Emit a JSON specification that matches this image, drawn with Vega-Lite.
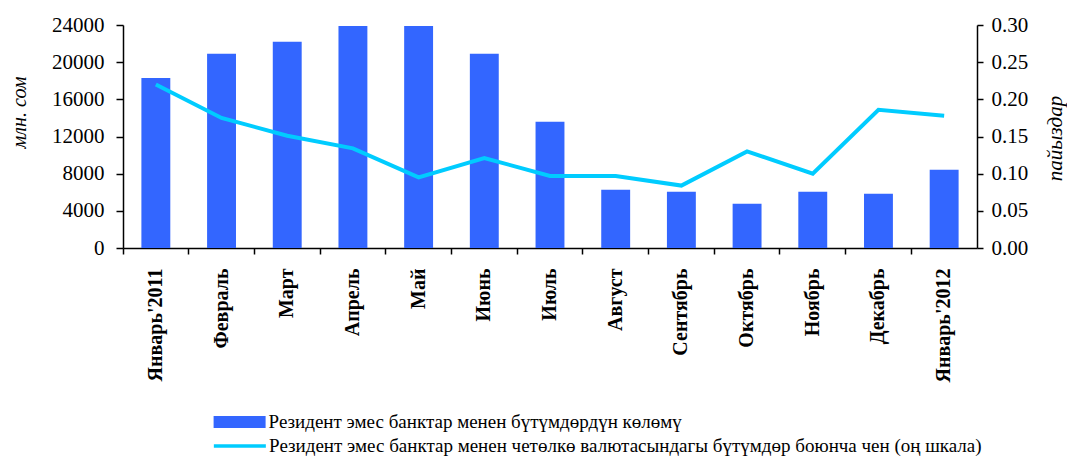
{
  "$schema": "https://vega.github.io/schema/vega-lite/v6.json",
  "width": 854,
  "height": 223,
  "autosize": {"type": "none"},
  "padding": {"left": 123, "top": 25, "right": 90, "bottom": 209},
  "background": "white",
  "config": {"view": {"stroke": null}, "font": "Liberation Serif"},
  "data": {
    "values": [
      {"month": "Январь'2011", "volume": 18300, "rate": 0.220},
      {"month": "Февраль", "volume": 20900, "rate": 0.175},
      {"month": "Март", "volume": 22200, "rate": 0.151},
      {"month": "Апрель", "volume": 23900, "rate": 0.134},
      {"month": "Май", "volume": 23900, "rate": 0.095},
      {"month": "Июнь", "volume": 20900, "rate": 0.121},
      {"month": "Июль", "volume": 13600, "rate": 0.097},
      {"month": "Август", "volume": 6270, "rate": 0.097},
      {"month": "Сентябрь", "volume": 6050, "rate": 0.084},
      {"month": "Октябрь", "volume": 4760, "rate": 0.130},
      {"month": "Ноябрь", "volume": 6050, "rate": 0.100},
      {"month": "Декабрь", "volume": 5840, "rate": 0.186},
      {"month": "Январь'2012", "volume": 8420, "rate": 0.178}
    ]
  },
  "encoding": {
    "x": {
      "field": "month",
      "type": "nominal",
      "sort": null,
      "scale": {"paddingInner": 0, "paddingOuter": 0},
      "axis": {
        "title": null,
        "labelAngle": -90,
        "labelFont": "Liberation Serif",
        "labelFontWeight": "bold",
        "labelFontSize": 20,
        "labelColor": "black",
        "labelPadding": 14,
        "labelOverlap": false,
        "labelLimit": 300,
        "bandPosition": 0,
        "tickSize": 6,
        "tickWidth": 1.5,
        "tickColor": "black",
        "domainColor": "black",
        "domainWidth": 1.5,
        "grid": false
      }
    }
  },
  "layer": [
    {
      "mark": {"type": "bar", "width": {"band": 0.44}},
      "encoding": {
        "y": {
          "field": "volume",
          "type": "quantitative",
          "scale": {"domain": [0, 24000], "nice": false},
          "axis": {
            "orient": "left",
            "title": "млн. сом",
            "titleFont": "Liberation Serif",
            "titleFontStyle": "italic",
            "titleFontWeight": "normal",
            "titleFontSize": 20,
            "titleColor": "black",
            "titleAngle": -90,
            "titleAlign": "center",
            "titleBaseline": "middle",
            "titleX": -104,
            "titleY": 87,
            "values": [0, 4000, 8000, 12000, 16000, 20000, 24000],
            "format": "d",
            "labelFont": "Liberation Serif",
            "labelFontSize": 21,
            "labelColor": "black",
            "labelPadding": 12,
            "tickSize": 7,
            "tickWidth": 1.5,
            "tickColor": "black",
            "domainColor": "black",
            "domainWidth": 1.5,
            "grid": false
          }
        },
        "fill": {
          "datum": "Резидент эмес банктар менен бүтүмдөрдүн көлөмү",
          "type": "nominal",
          "scale": {"range": ["#3366FF"]},
          "legend": {
            "title": null,
            "orient": "none",
            "legendX": 90.6,
            "legendY": 371,
            "padding": 0,
            "symbolType": "M-1,-0.23H1V0.23H-1Z",
            "symbolSize": 2704,
            "symbolStrokeWidth": 0,
            "labelFont": "Liberation Serif",
            "labelFontSize": 19,
            "labelColor": "black",
            "labelOffset": 3,
            "labelLimit": 1000
          }
        }
      }
    },
    {
      "mark": {"type": "line", "strokeWidth": 4},
      "encoding": {
        "y": {
          "field": "rate",
          "type": "quantitative",
          "scale": {"domain": [0, 0.3], "nice": false},
          "axis": {
            "orient": "right",
            "title": "пайыздар",
            "titleFont": "Liberation Serif",
            "titleFontStyle": "italic",
            "titleFontWeight": "normal",
            "titleFontSize": 21,
            "titleColor": "black",
            "titleAngle": -90,
            "titleAlign": "center",
            "titleBaseline": "middle",
            "titleX": 78,
            "titleY": 113,
            "values": [0, 0.05, 0.1, 0.15, 0.2, 0.25, 0.3],
            "format": ".2f",
            "labelFont": "Liberation Serif",
            "labelFontSize": 21,
            "labelColor": "black",
            "labelPadding": 8,
            "tickSize": 6,
            "tickWidth": 1.5,
            "tickColor": "black",
            "domainColor": "black",
            "domainWidth": 1.5,
            "grid": false
          }
        },
        "stroke": {
          "datum": "Резидент эмес банктар менен четөлкө валютасындагы бүтүмдөр боюнча чен (оң шкала)",
          "type": "nominal",
          "scale": {"range": ["#00CCFF"]},
          "legend": {
            "title": null,
            "orient": "none",
            "legendX": 88.85,
            "legendY": 393,
            "padding": 0,
            "symbolType": "stroke",
            "symbolSize": 2704,
            "symbolStrokeWidth": 3.5,
            "labelFont": "Liberation Serif",
            "labelFontSize": 19,
            "labelColor": "black",
            "labelOffset": 1.25,
            "labelLimit": 1000
          }
        }
      }
    }
  ],
  "resolve": {"scale": {"y": "independent", "fill": "independent", "stroke": "independent"}}
}
